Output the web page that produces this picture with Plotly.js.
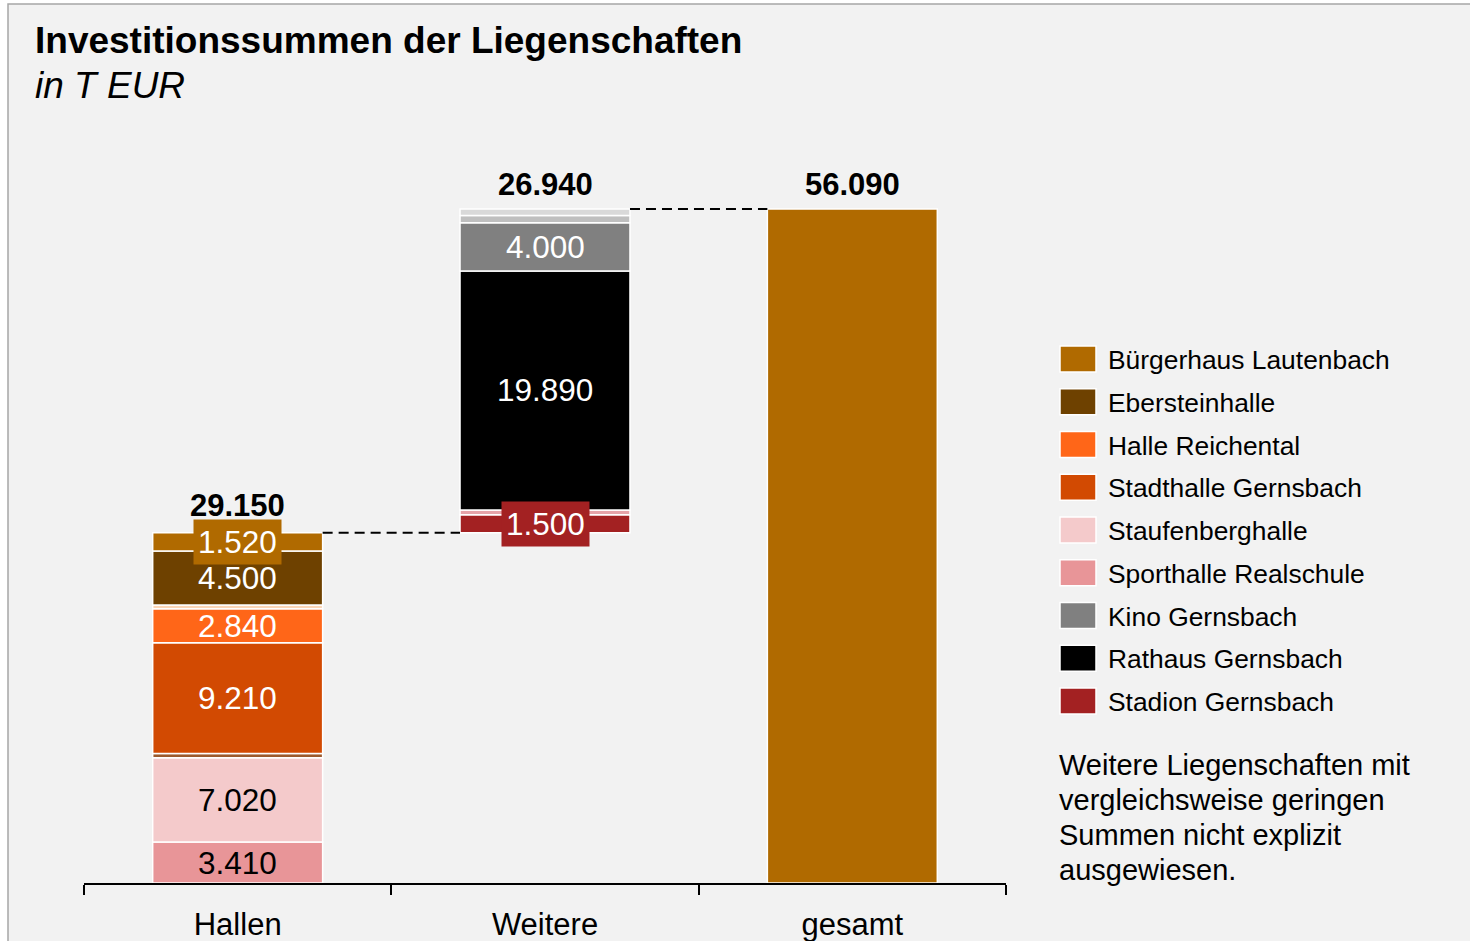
<!DOCTYPE html>
<html>
<head>
<meta charset="utf-8">
<script src="https://cdn.plot.ly/plotly-3.0.1.min.js"></script>
<style>
  html, body { margin: 0; padding: 0; background: #ffffff; }
  #chart { width: 1470px; height: 941px; }
</style>
</head>
<body>
<div id="chart"></div>
<script>
// ---------------- DATA ----------------
const categories = ['Hallen', 'Weitere', 'gesamt'];

// Hallen segments, bottom to top
const hallenSeries = ['Sporthalle Realschule', 'Staufenberghalle', 'Sonstige Halle 1', 'Stadthalle Gernsbach',
                      'Halle Reichental', 'Sonstige Halle 2', 'Ebersteinhalle', 'Bürgerhaus Lautenbach'];
const hallenValues = [3410, 7020, 350, 9210, 2840, 300, 4500, 1520];

// Weitere segments, bottom to top (stacked on top of the Hallen total)
const weitereSeries = ['Stadion Gernsbach', 'Sonstige Weitere 1', 'Rathaus Gernsbach', 'Kino Gernsbach',
                       'Sonstige Weitere 2', 'Sonstige Weitere 3'];
const weitereValues = [1500, 400, 19890, 4000, 600, 550];

const totals = [29150, 26940, 56090];

const legendSeries = ['Bürgerhaus Lautenbach', 'Ebersteinhalle', 'Halle Reichental', 'Stadthalle Gernsbach',
                      'Staufenberghalle', 'Sporthalle Realschule', 'Kino Gernsbach', 'Rathaus Gernsbach',
                      'Stadion Gernsbach'];
const unlabeledSeries = ['Sonstige Halle 1', 'Sonstige Halle 2', 'Sonstige Weitere 1', 'Sonstige Weitere 2', 'Sonstige Weitere 3'];

const titleText = 'Investitionssummen der Liegenschaften';
const subtitleText = 'in T EUR';
const noteLines = ['Weitere Liegenschaften mit', 'vergleichsweise geringen', 'Summen nicht explizit', 'ausgewiesen.'];

// ---------------- STYLE ----------------
const colors = {
  'Bürgerhaus Lautenbach': '#b06a00',
  'Ebersteinhalle': '#6e4100',
  'Halle Reichental': '#ff6618',
  'Stadthalle Gernsbach': '#d24a02',
  'Staufenberghalle': '#f4cacb',
  'Sporthalle Realschule': '#e89598',
  'Kino Gernsbach': '#808080',
  'Rathaus Gernsbach': '#000000',
  'Stadion Gernsbach': '#a32122',
  'Sonstige Halle 1': '#9b5a2e',
  'Sonstige Halle 2': '#fcd5b5',
  'Sonstige Weitere 1': '#e6a3a8',
  'Sonstige Weitere 2': '#bfbfbf',
  'Sonstige Weitere 3': '#d9d9d9'
};
const darkText = ['Staufenberghalle', 'Sporthalle Realschule'];
const FONT = 'Liberation Sans, Arial, Helvetica, sans-serif';
const BAR_W = 0.553;

// plot area in pixels
const PL = 84, PR = 1006, PT = 138, PB = 883;
const W = 1470, H = 941;
const px2x = p => (p - PL) / (PR - PL);
const px2y = p => (PB - p) / (PB - PT);

function fmt(v) {
  const s = String(Math.round(v));
  return s.replace(/\B(?=(\d{3})+(?!\d))/g, '.');
}

const traces = [];
const annotations = [];
const shapes = [];

function addStack(cat, names, values, startBase) {
  let base = startBase;
  names.forEach((name, i) => {
    const v = values[i];
    traces.push({
      type: 'bar', x: [cat], y: [v], base: [base], name: name,
      width: BAR_W, showlegend: false,
      marker: { color: colors[name], line: { color: '#ffffff', width: 1.5 } },
      hovertemplate: name + ': ' + fmt(v) + '<extra></extra>'
    });
    if (unlabeledSeries.indexOf(name) === -1) {
      const small = v < 2000;
      annotations.push({
        x: cat, y: base + v / 2, xref: 'x', yref: 'y', text: fmt(v), showarrow: false,
        font: { family: FONT, size: 31.5, color: darkText.indexOf(name) >= 0 ? '#000000' : '#ffffff' },
        bgcolor: small ? colors[name] : 'rgba(0,0,0,0)', borderpad: small ? 4 : 0,
        xanchor: 'center', yanchor: 'middle'
      });
    }
    base += v;
  });
  return base;
}

const hallenTop = addStack(categories[0], hallenSeries, hallenValues, 0);
const weitereTop = addStack(categories[1], weitereSeries, weitereValues, totals[0]);

// gesamt bar
traces.push({
  type: 'bar', x: [categories[2]], y: [totals[2]], base: [0], name: 'gesamt',
  width: BAR_W, showlegend: false,
  marker: { color: colors['Bürgerhaus Lautenbach'], line: { color: '#ffffff', width: 1.5 } },
  hovertemplate: 'gesamt: ' + fmt(totals[2]) + '<extra></extra>'
});

// total labels
categories.forEach((c, i) => {
  const top = i === 0 ? totals[0] : (i === 1 ? totals[0] + totals[1] : totals[2]);
  annotations.push({
    x: c, y: top, xref: 'x', yref: 'y', text: '<b>' + fmt(totals[i]) + '</b>', showarrow: false,
    font: { family: FONT, size: 31, color: '#000000' }, xanchor: 'center', yanchor: 'bottom',
    yshift: i === 0 ? 8 : 5
  });
});

// dashed connectors
shapes.push({
  type: 'line', xref: 'x', yref: 'y', x0: 0 + BAR_W / 2, x1: 1 - BAR_W / 2, y0: totals[0], y1: totals[0],
  line: { color: '#000000', width: 2, dash: '10px,6px' }
});
shapes.push({
  type: 'line', xref: 'x', yref: 'y', x0: 1 + BAR_W / 2, x1: 2 - BAR_W / 2,
  y0: totals[0] + totals[1], y1: totals[0] + totals[1],
  line: { color: '#000000', width: 2, dash: '10px,6px' }
});

// background panel with grey border
shapes.push({
  type: 'rect', xref: 'paper', yref: 'paper', layer: 'below',
  x0: px2x(8), x1: px2x(1490), y0: px2y(960), y1: px2y(4),
  fillcolor: '#f2f2f2', line: { color: '#a6a6a6', width: 1.5 }
});

// title
annotations.push({
  xref: 'paper', yref: 'paper', x: px2x(33), y: px2y(41), xanchor: 'left', yanchor: 'middle',
  text: '<b>' + titleText + '</b>', showarrow: false, font: { family: FONT, size: 37, color: '#000000' }
});
annotations.push({
  xref: 'paper', yref: 'paper', x: px2x(33), y: px2y(86), xanchor: 'left', yanchor: 'middle',
  text: '<i>' + subtitleText + '</i>', showarrow: false, font: { family: FONT, size: 37, color: '#000000' }
});

// custom legend
legendSeries.forEach((name, i) => {
  const cy = 359 + i * 42.75;
  shapes.push({
    type: 'rect', xref: 'paper', yref: 'paper',
    x0: px2x(1060), x1: px2x(1096), y0: px2y(cy + 13), y1: px2y(cy - 13),
    fillcolor: colors[name], line: { color: '#ffffff', width: 1.5 }
  });
  annotations.push({
    xref: 'paper', yref: 'paper', x: px2x(1106), y: px2y(cy + 1), xanchor: 'left', yanchor: 'middle',
    text: name, showarrow: false, font: { family: FONT, size: 26.4, color: '#000000' }
  });
});

// note
noteLines.forEach((line, i) => {
  annotations.push({
    xref: 'paper', yref: 'paper', x: px2x(1057), y: px2y(765 + i * 35), xanchor: 'left', yanchor: 'middle',
    text: line, showarrow: false, font: { family: FONT, size: 29, color: '#000000' }
  });
});

const layout = {
  width: W, height: H,
  margin: { l: PL, r: W - PR, t: PT, b: H - PB, pad: 0 },
  paper_bgcolor: '#ffffff', plot_bgcolor: 'rgba(0,0,0,0)',
  barmode: 'overlay', showlegend: false,
  font: { family: FONT, color: '#000000' },
  xaxis: {
    type: 'category', categoryorder: 'array', categoryarray: categories, range: [-0.5, 2.5],
    showline: true, linecolor: '#000000', linewidth: 2,
    ticks: 'outside', tickson: 'boundaries', ticklen: 10, tickwidth: 2, tickcolor: '#000000',
    ticklabelstandoff: 13,
    tickfont: { family: FONT, size: 31, color: '#000000' }, showgrid: false, zeroline: false, fixedrange: true
  },
  yaxis: { range: [0, 62000], visible: false, showgrid: false, zeroline: false, fixedrange: true },
  shapes: shapes, annotations: annotations
};

Plotly.newPlot('chart', traces, layout, { displayModeBar: false, staticPlot: true });
</script>
</body>
</html>
